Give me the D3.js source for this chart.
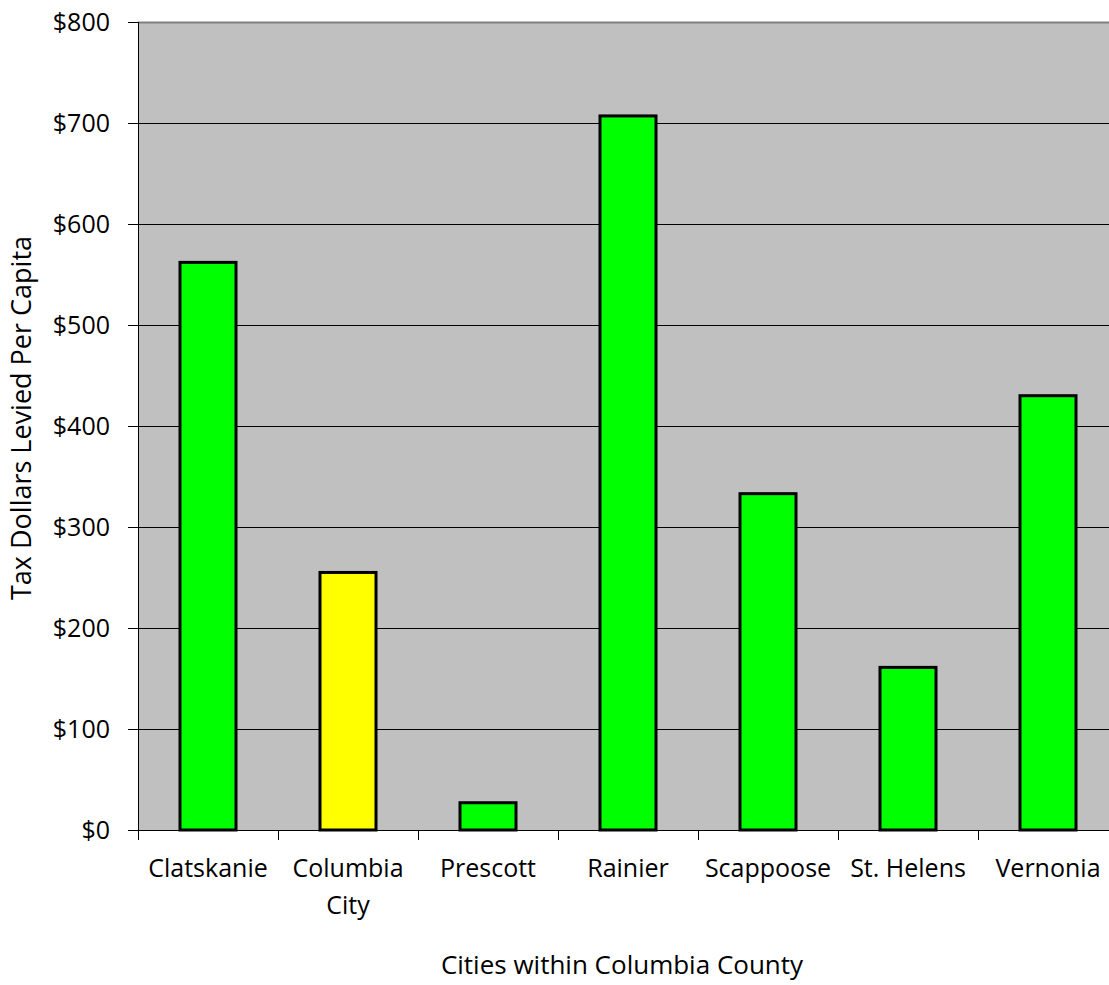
<!DOCTYPE html>
<html>
<head>
<meta charset="utf-8">
<script src="https://cdn.jsdelivr.net/npm/d3@7"></script>
<style>
  body { margin: 0; background: #fff; }
  svg text { font-family: "Open Sans", Lato, sans-serif; fill: #000; }
</style>
</head>
<body>
<svg id="chart" width="1109" height="985"></svg>
<script>
const cities = ['Clatskanie', 'Columbia City', 'Prescott', 'Rainier', 'Scappoose', 'St. Helens', 'Vernonia'];
const taxPerCapita = [562, 255, 27, 707, 333, 161, 430];
const barColours = ['#00ff00', '#ffff00', '#00ff00', '#00ff00', '#00ff00', '#00ff00', '#00ff00'];
const yTicks = [0, 100, 200, 300, 400, 500, 600, 700, 800];

const data = cities.map((c, i) => ({ city: c, value: taxPerCapita[i], colour: barColours[i] }));

const svg = d3.select('#chart');
const margin = { left: 138, top: 22, right: -9, bottom: 155 };
const width = +svg.attr('width');
const height = +svg.attr('height');
const innerWidth = width - margin.left - margin.right;
const innerHeight = height - margin.top - margin.bottom;

const xScale = d3.scaleBand()
    .domain(cities)
    .range([0, innerWidth])
    .paddingInner(0.6)
    .paddingOuter(0.3);

const yScale = d3.scaleLinear()
    .domain([0, 800])
    .range([innerHeight, 0]);

const g = svg.append('g')
    .attr('transform', `translate(${margin.left},${margin.top})`);

// grey plot area
g.append('rect')
    .attr('width', innerWidth)
    .attr('height', innerHeight)
    .attr('fill', '#c0c0c0');

// horizontal gridlines
g.selectAll('line.grid')
    .data(yTicks.filter(d => d > 0 && d < 800))
    .enter().append('line')
    .attr('class', 'grid')
    .attr('x1', 0)
    .attr('x2', innerWidth)
    .attr('y1', d => yScale(d) + 0.5)
    .attr('y2', d => yScale(d) + 0.5)
    .attr('stroke', '#000')
    .attr('stroke-width', 1);

// top border of the plot
g.append('line')
    .attr('x1', 0).attr('x2', innerWidth)
    .attr('y1', yScale(800) + 0.5).attr('y2', yScale(800) + 0.5)
    .attr('stroke', '#808080')
    .attr('stroke-width', 2);

// bars
g.selectAll('rect.bar')
    .data(data)
    .enter().append('rect')
    .attr('class', 'bar')
    .attr('x', d => xScale(d.city))
    .attr('y', d => yScale(d.value))
    .attr('width', xScale.bandwidth())
    .attr('height', d => innerHeight - yScale(d.value))
    .attr('fill', d => d.colour)
    .attr('stroke', '#000')
    .attr('stroke-width', 3);

// y axis
const yAxis = d3.axisLeft(yScale)
    .tickValues(yTicks)
    .tickFormat(d => '$' + d)
    .tickSize(10)
    .tickPadding(18);

const yAxisG = g.append('g').call(yAxis);
yAxisG.select('.domain').attr('stroke', '#000').attr('d', `M0.5,0V${innerHeight}`);
yAxisG.selectAll('text')
    .style('font-size', '25px')
    .style('font-family', '"Open Sans", sans-serif');

// x axis with ticks on the category boundaries
const boundaries = d3.range(cities.length + 1).map(i => i * xScale.step());
const xAxisG = g.append('g')
    .attr('transform', `translate(0,${innerHeight})`);
xAxisG.append('line')
    .attr('x1', 0).attr('x2', innerWidth)
    .attr('y1', 0.5).attr('y2', 0.5)
    .attr('stroke', '#000');
xAxisG.selectAll('line.tick')
    .data(boundaries)
    .enter().append('line')
    .attr('class', 'tick')
    .attr('x1', d => d + 0.5).attr('x2', d => d + 0.5)
    .attr('y1', 0).attr('y2', 10)
    .attr('stroke', '#000');

// category labels, wrapped where needed
const labels = xAxisG.selectAll('text.cat')
    .data(data)
    .enter().append('text')
    .attr('class', 'cat')
    .attr('text-anchor', 'middle')
    .attr('x', d => xScale(d.city) + xScale.bandwidth() / 2)
    .attr('y', 47)
    .style('font-size', '25px');
labels.each(function(d) {
    const words = d.city === 'Columbia City' ? ['Columbia', 'City'] : [d.city];
    words.forEach((w, i) => {
        d3.select(this).append('tspan')
            .attr('x', xScale(d.city) + xScale.bandwidth() / 2)
            .attr('dy', i === 0 ? 0 : 37)
            .text(w);
    });
});

// axis titles
svg.append('text')
    .attr('text-anchor', 'middle')
    .attr('x', 622)
    .attr('y', 974)
    .style('font-size', '26px')
    .text('Cities within Columbia County');

svg.append('text')
    .attr('text-anchor', 'middle')
    .attr('transform', `translate(31,${margin.top + innerHeight / 2 - 8}) rotate(-90)`)
    .style('font-size', '27px')
    .text('Tax Dollars Levied Per Capita');
</script>
</body>
</html>
